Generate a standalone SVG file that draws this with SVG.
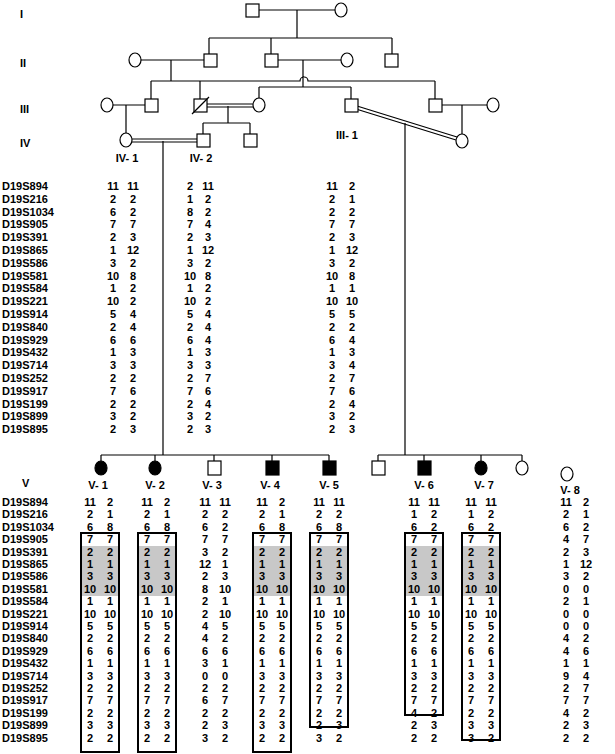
<svg xmlns="http://www.w3.org/2000/svg" width="615" height="754" viewBox="0 0 615 754">
<style>
text{font-family:"Liberation Sans",Arial,sans-serif;font-weight:bold;font-size:11px;fill:#000}
.n{text-anchor:middle}
.s{fill:#fff;stroke:#000;stroke-width:1.2}
.f{fill:#000;stroke:#000;stroke-width:1.2}
.l{stroke:#000;stroke-width:1.2;fill:none}
.box{fill:none;stroke:#000;stroke-width:2}
.g{fill:#c8c8c8}
</style>
<rect width="615" height="754" fill="#fff"/>
<g id="connectors" class="l">
<path d="M259 10H335M297 10V38M209 38H392M209 38V54M271 38V54M392 38V54"/>
<path d="M141 60H204M277 60H341M171 60V81M303 60V87M151 81H300A4 4 0 0 1 308 81H435M151 81V99M200 81V99M435 81V99M259 87H351M259 87V99M351 87V99"/>
<path d="M113 105H145M126 105V134M228 106V123M203 123H250M203 123V134M250 123V134M441 105H487M462 105V134"/>
<path d="M206 104H253M206 107H253M132 139H197M132 142H197"/>
<path d="M357 106L457 137M356 109L456 140"/>
<path d="M163 141V455M405 123V455M101 455H329M101 455V461M155 455V461M214 455V461M272 455V461M329 455V461M378 455H522M378 455V461M424 455V461M481 455V461M522 455V461"/>
</g>
<g id="gen-labels"><text x="20" y="18">I</text><text x="20" y="67">II</text><text x="20" y="113">III</text><text x="20" y="147">IV</text><text x="22" y="487">V</text></g>
<g id="I-1"><rect class="s" x="246" y="4" width="13" height="13"/></g>
<g id="I-2"><ellipse class="s" cx="341" cy="10" rx="6" ry="7"/></g>
<g id="II-1"><ellipse class="s" cx="135" cy="60" rx="6" ry="7"/></g>
<g id="II-2"><rect class="s" x="204" y="54" width="13" height="13"/></g>
<g id="II-3"><rect class="s" x="265" y="54" width="13" height="13"/></g>
<g id="II-4"><ellipse class="s" cx="347" cy="60" rx="6" ry="7"/></g>
<g id="II-5"><rect class="s" x="385" y="54" width="13" height="13"/></g>
<g id="III-a"><ellipse class="s" cx="107" cy="105" rx="6" ry="7"/></g>
<g id="III-b"><rect class="s" x="145" y="99" width="13" height="13"/></g>
<g id="III-c"><rect class="s" x="194" y="99" width="13" height="13"/><path class="l" d="M192 114L209 97"/></g>
<g id="III-d"><ellipse class="s" cx="259" cy="105" rx="6" ry="7"/></g>
<g id="III-1"><rect class="s" x="345" y="99" width="13" height="13"/><text class="n" x="347" y="139">III- 1</text></g>
<g id="III-e"><rect class="s" x="429" y="99" width="13" height="13"/></g>
<g id="III-f"><ellipse class="s" cx="493" cy="105" rx="6" ry="7"/></g>
<g id="IV-1"><ellipse class="s" cx="126" cy="140" rx="6" ry="7"/><text class="n" x="127" y="162">IV- 1</text></g>
<g id="IV-2"><rect class="s" x="197" y="134" width="13" height="13"/><text class="n" x="201" y="162">IV- 2</text></g>
<g id="IV-3"><rect class="s" x="244" y="134" width="13" height="13"/></g>
<g id="IV-4"><ellipse class="s" cx="462" cy="141" rx="6" ry="7"/></g>
<g id="V-1"><ellipse class="f" cx="101" cy="468" rx="6" ry="7"/><text class="n" x="98" y="489">V- 1</text></g>
<g id="V-2"><ellipse class="f" cx="155" cy="468" rx="6" ry="7"/><text class="n" x="155" y="489">V- 2</text></g>
<g id="V-3"><rect class="s" x="208" y="461" width="13" height="14"/><text class="n" x="212" y="489">V- 3</text></g>
<g id="V-4"><rect class="f" x="266" y="461" width="13" height="14"/><text class="n" x="270" y="489">V- 4</text></g>
<g id="V-5"><rect class="f" x="323" y="461" width="13" height="14"/><text class="n" x="329" y="489">V- 5</text></g>
<g id="V-a"><rect class="s" x="372" y="461" width="13" height="14"/></g>
<g id="V-6"><rect class="f" x="418" y="461" width="13" height="14"/><text class="n" x="424" y="489">V- 6</text></g>
<g id="V-7"><ellipse class="f" cx="481" cy="468" rx="6" ry="7"/><text class="n" x="484" y="489">V- 7</text></g>
<g id="V-b"><ellipse class="s" cx="522" cy="468" rx="6" ry="7"/></g>
<g id="V-8"><ellipse class="s" cx="567" cy="474" rx="6" ry="7"/><text class="n" x="570" y="494">V- 8</text></g>
<g id="top-table">
<text x="2" y="190">D19S894</text><text x="2" y="203">D19S216</text><text x="2" y="216">D19S1034</text><text x="2" y="228">D19S905</text><text x="2" y="241">D19S391</text><text x="2" y="254">D19S865</text><text x="2" y="267">D19S586</text><text x="2" y="280">D19S581</text><text x="2" y="292">D19S584</text><text x="2" y="305">D19S221</text><text x="2" y="318">D19S914</text><text x="2" y="331">D19S840</text><text x="2" y="344">D19S929</text><text x="2" y="356">D19S432</text><text x="2" y="369">D19S714</text><text x="2" y="382">D19S252</text><text x="2" y="395">D19S917</text><text x="2" y="408">D19S199</text><text x="2" y="420">D19S899</text><text x="2" y="433">D19S895</text>
</g>
<g id="top-values" class="n">
<text x="113" y="190">11</text><text x="133" y="190">11</text><text x="190" y="190">2</text><text x="208" y="190">11</text><text x="332" y="190">11</text><text x="352" y="190">2</text>
<text x="113" y="203">2</text><text x="133" y="203">2</text><text x="190" y="203">1</text><text x="208" y="203">2</text><text x="332" y="203">2</text><text x="352" y="203">1</text>
<text x="113" y="216">6</text><text x="133" y="216">2</text><text x="190" y="216">8</text><text x="208" y="216">2</text><text x="332" y="216">2</text><text x="352" y="216">2</text>
<text x="113" y="228">7</text><text x="133" y="228">7</text><text x="190" y="228">7</text><text x="208" y="228">4</text><text x="332" y="228">7</text><text x="352" y="228">7</text>
<text x="113" y="241">2</text><text x="133" y="241">3</text><text x="190" y="241">2</text><text x="208" y="241">3</text><text x="332" y="241">2</text><text x="352" y="241">3</text>
<text x="113" y="254">1</text><text x="133" y="254">12</text><text x="190" y="254">1</text><text x="208" y="254">12</text><text x="332" y="254">1</text><text x="352" y="254">12</text>
<text x="113" y="267">3</text><text x="133" y="267">2</text><text x="190" y="267">3</text><text x="208" y="267">2</text><text x="332" y="267">3</text><text x="352" y="267">2</text>
<text x="113" y="280">10</text><text x="133" y="280">8</text><text x="190" y="280">10</text><text x="208" y="280">8</text><text x="332" y="280">10</text><text x="352" y="280">8</text>
<text x="113" y="292">1</text><text x="133" y="292">2</text><text x="190" y="292">1</text><text x="208" y="292">2</text><text x="332" y="292">1</text><text x="352" y="292">1</text>
<text x="113" y="305">10</text><text x="133" y="305">2</text><text x="190" y="305">10</text><text x="208" y="305">2</text><text x="332" y="305">10</text><text x="352" y="305">10</text>
<text x="113" y="318">5</text><text x="133" y="318">4</text><text x="190" y="318">5</text><text x="208" y="318">4</text><text x="332" y="318">5</text><text x="352" y="318">5</text>
<text x="113" y="331">2</text><text x="133" y="331">4</text><text x="190" y="331">2</text><text x="208" y="331">4</text><text x="332" y="331">2</text><text x="352" y="331">2</text>
<text x="113" y="344">6</text><text x="133" y="344">6</text><text x="190" y="344">6</text><text x="208" y="344">4</text><text x="332" y="344">6</text><text x="352" y="344">4</text>
<text x="113" y="356">1</text><text x="133" y="356">3</text><text x="190" y="356">1</text><text x="208" y="356">3</text><text x="332" y="356">1</text><text x="352" y="356">3</text>
<text x="113" y="369">3</text><text x="133" y="369">3</text><text x="190" y="369">3</text><text x="208" y="369">3</text><text x="332" y="369">3</text><text x="352" y="369">4</text>
<text x="113" y="382">2</text><text x="133" y="382">2</text><text x="190" y="382">2</text><text x="208" y="382">7</text><text x="332" y="382">2</text><text x="352" y="382">7</text>
<text x="113" y="395">7</text><text x="133" y="395">6</text><text x="190" y="395">7</text><text x="208" y="395">6</text><text x="332" y="395">7</text><text x="352" y="395">6</text>
<text x="113" y="408">2</text><text x="133" y="408">2</text><text x="190" y="408">2</text><text x="208" y="408">4</text><text x="332" y="408">2</text><text x="352" y="408">4</text>
<text x="113" y="420">3</text><text x="133" y="420">2</text><text x="190" y="420">3</text><text x="208" y="420">2</text><text x="332" y="420">3</text><text x="352" y="420">2</text>
<text x="113" y="433">2</text><text x="133" y="433">3</text><text x="190" y="433">2</text><text x="208" y="433">3</text><text x="332" y="433">2</text><text x="352" y="433">3</text>
</g>
<g id="shading">
<rect class="g" x="81" y="546" width="38" height="50"/><rect class="g" x="138" y="546" width="38" height="50"/><rect class="g" x="253" y="546" width="38" height="50"/><rect class="g" x="310" y="546" width="38" height="50"/><rect class="g" x="405" y="546" width="38" height="50"/><rect class="g" x="462" y="546" width="38" height="50"/>
</g>
<g id="boxes">
<rect class="box" x="81" y="533" width="38" height="219"/><rect class="box" x="138" y="533" width="38" height="219"/><rect class="box" x="253" y="533" width="38" height="219"/><rect class="box" x="310" y="533" width="38" height="194"/><rect class="box" x="405" y="533" width="38" height="182"/><rect class="box" x="462" y="533" width="38" height="207"/>
</g>
<g id="bottom-table">
<text x="2" y="506">D19S894</text><text x="2" y="518">D19S216</text><text x="2" y="531">D19S1034</text><text x="2" y="543">D19S905</text><text x="2" y="556">D19S391</text><text x="2" y="568">D19S865</text><text x="2" y="580">D19S586</text><text x="2" y="593">D19S581</text><text x="2" y="605">D19S584</text><text x="2" y="618">D19S221</text><text x="2" y="630">D19S914</text><text x="2" y="642">D19S840</text><text x="2" y="655">D19S929</text><text x="2" y="667">D19S432</text><text x="2" y="680">D19S714</text><text x="2" y="692">D19S252</text><text x="2" y="704">D19S917</text><text x="2" y="717">D19S199</text><text x="2" y="729">D19S899</text><text x="2" y="742">D19S895</text>
</g>
<g id="bottom-values" class="n">
<text x="90" y="506">11</text><text x="110" y="506">2</text><text x="147" y="506">11</text><text x="167" y="506">2</text><text x="205" y="506">11</text><text x="225" y="506">11</text><text x="262" y="506">11</text><text x="282" y="506">2</text><text x="319" y="506">11</text><text x="339" y="506">11</text><text x="414" y="506">11</text><text x="434" y="506">11</text><text x="471" y="506">11</text><text x="491" y="506">11</text><text x="566" y="506">11</text><text x="586" y="506">2</text>
<text x="90" y="518">2</text><text x="110" y="518">1</text><text x="147" y="518">2</text><text x="167" y="518">1</text><text x="205" y="518">2</text><text x="225" y="518">2</text><text x="262" y="518">2</text><text x="282" y="518">1</text><text x="319" y="518">2</text><text x="339" y="518">2</text><text x="414" y="518">1</text><text x="434" y="518">2</text><text x="471" y="518">1</text><text x="491" y="518">2</text><text x="566" y="518">2</text><text x="586" y="518">1</text>
<text x="90" y="531">6</text><text x="110" y="531">8</text><text x="147" y="531">6</text><text x="167" y="531">8</text><text x="205" y="531">6</text><text x="225" y="531">2</text><text x="262" y="531">6</text><text x="282" y="531">8</text><text x="319" y="531">6</text><text x="339" y="531">8</text><text x="414" y="531">6</text><text x="434" y="531">2</text><text x="471" y="531">6</text><text x="491" y="531">2</text><text x="566" y="531">6</text><text x="586" y="531">2</text>
<text x="90" y="543">7</text><text x="110" y="543">7</text><text x="147" y="543">7</text><text x="167" y="543">7</text><text x="205" y="543">7</text><text x="225" y="543">7</text><text x="262" y="543">7</text><text x="282" y="543">7</text><text x="319" y="543">7</text><text x="339" y="543">7</text><text x="414" y="543">7</text><text x="434" y="543">7</text><text x="471" y="543">7</text><text x="491" y="543">7</text><text x="566" y="543">4</text><text x="586" y="543">7</text>
<text x="90" y="556">2</text><text x="110" y="556">2</text><text x="147" y="556">2</text><text x="167" y="556">2</text><text x="205" y="556">3</text><text x="225" y="556">2</text><text x="262" y="556">2</text><text x="282" y="556">2</text><text x="319" y="556">2</text><text x="339" y="556">2</text><text x="414" y="556">2</text><text x="434" y="556">2</text><text x="471" y="556">2</text><text x="491" y="556">2</text><text x="566" y="556">2</text><text x="586" y="556">3</text>
<text x="90" y="568">1</text><text x="110" y="568">1</text><text x="147" y="568">1</text><text x="167" y="568">1</text><text x="205" y="568">12</text><text x="225" y="568">1</text><text x="262" y="568">1</text><text x="282" y="568">1</text><text x="319" y="568">1</text><text x="339" y="568">1</text><text x="414" y="568">1</text><text x="434" y="568">1</text><text x="471" y="568">1</text><text x="491" y="568">1</text><text x="566" y="568">1</text><text x="586" y="568">12</text>
<text x="90" y="580">3</text><text x="110" y="580">3</text><text x="147" y="580">3</text><text x="167" y="580">3</text><text x="205" y="580">2</text><text x="225" y="580">3</text><text x="262" y="580">3</text><text x="282" y="580">3</text><text x="319" y="580">3</text><text x="339" y="580">3</text><text x="414" y="580">3</text><text x="434" y="580">3</text><text x="471" y="580">3</text><text x="491" y="580">3</text><text x="566" y="580">3</text><text x="586" y="580">2</text>
<text x="90" y="593">10</text><text x="110" y="593">10</text><text x="147" y="593">10</text><text x="167" y="593">10</text><text x="205" y="593">8</text><text x="225" y="593">10</text><text x="262" y="593">10</text><text x="282" y="593">10</text><text x="319" y="593">10</text><text x="339" y="593">10</text><text x="414" y="593">10</text><text x="434" y="593">10</text><text x="471" y="593">10</text><text x="491" y="593">10</text><text x="566" y="593">0</text><text x="586" y="593">0</text>
<text x="90" y="605">1</text><text x="110" y="605">1</text><text x="147" y="605">1</text><text x="167" y="605">1</text><text x="205" y="605">2</text><text x="225" y="605">1</text><text x="262" y="605">1</text><text x="282" y="605">1</text><text x="319" y="605">1</text><text x="339" y="605">1</text><text x="414" y="605">1</text><text x="434" y="605">1</text><text x="471" y="605">1</text><text x="491" y="605">1</text><text x="566" y="605">2</text><text x="586" y="605">1</text>
<text x="90" y="618">10</text><text x="110" y="618">10</text><text x="147" y="618">10</text><text x="167" y="618">10</text><text x="205" y="618">2</text><text x="225" y="618">10</text><text x="262" y="618">10</text><text x="282" y="618">10</text><text x="319" y="618">10</text><text x="339" y="618">10</text><text x="414" y="618">10</text><text x="434" y="618">10</text><text x="471" y="618">10</text><text x="491" y="618">10</text><text x="566" y="618">0</text><text x="586" y="618">0</text>
<text x="90" y="630">5</text><text x="110" y="630">5</text><text x="147" y="630">5</text><text x="167" y="630">5</text><text x="205" y="630">4</text><text x="225" y="630">5</text><text x="262" y="630">5</text><text x="282" y="630">5</text><text x="319" y="630">5</text><text x="339" y="630">5</text><text x="414" y="630">5</text><text x="434" y="630">5</text><text x="471" y="630">5</text><text x="491" y="630">5</text><text x="566" y="630">0</text><text x="586" y="630">0</text>
<text x="90" y="642">2</text><text x="110" y="642">2</text><text x="147" y="642">2</text><text x="167" y="642">2</text><text x="205" y="642">4</text><text x="225" y="642">2</text><text x="262" y="642">2</text><text x="282" y="642">2</text><text x="319" y="642">2</text><text x="339" y="642">2</text><text x="414" y="642">2</text><text x="434" y="642">2</text><text x="471" y="642">2</text><text x="491" y="642">2</text><text x="566" y="642">4</text><text x="586" y="642">2</text>
<text x="90" y="655">6</text><text x="110" y="655">6</text><text x="147" y="655">6</text><text x="167" y="655">6</text><text x="205" y="655">6</text><text x="225" y="655">6</text><text x="262" y="655">6</text><text x="282" y="655">6</text><text x="319" y="655">6</text><text x="339" y="655">6</text><text x="414" y="655">6</text><text x="434" y="655">6</text><text x="471" y="655">6</text><text x="491" y="655">6</text><text x="566" y="655">4</text><text x="586" y="655">6</text>
<text x="90" y="667">1</text><text x="110" y="667">1</text><text x="147" y="667">1</text><text x="167" y="667">1</text><text x="205" y="667">3</text><text x="225" y="667">1</text><text x="262" y="667">1</text><text x="282" y="667">1</text><text x="319" y="667">1</text><text x="339" y="667">1</text><text x="414" y="667">1</text><text x="434" y="667">1</text><text x="471" y="667">1</text><text x="491" y="667">1</text><text x="566" y="667">1</text><text x="586" y="667">1</text>
<text x="90" y="680">3</text><text x="110" y="680">3</text><text x="147" y="680">3</text><text x="167" y="680">3</text><text x="205" y="680">0</text><text x="225" y="680">0</text><text x="262" y="680">3</text><text x="282" y="680">3</text><text x="319" y="680">3</text><text x="339" y="680">3</text><text x="414" y="680">3</text><text x="434" y="680">3</text><text x="471" y="680">3</text><text x="491" y="680">3</text><text x="566" y="680">9</text><text x="586" y="680">4</text>
<text x="90" y="692">2</text><text x="110" y="692">2</text><text x="147" y="692">2</text><text x="167" y="692">2</text><text x="205" y="692">2</text><text x="225" y="692">2</text><text x="262" y="692">2</text><text x="282" y="692">2</text><text x="319" y="692">2</text><text x="339" y="692">2</text><text x="414" y="692">2</text><text x="434" y="692">2</text><text x="471" y="692">2</text><text x="491" y="692">2</text><text x="566" y="692">2</text><text x="586" y="692">7</text>
<text x="90" y="704">7</text><text x="110" y="704">7</text><text x="147" y="704">7</text><text x="167" y="704">7</text><text x="205" y="704">6</text><text x="225" y="704">7</text><text x="262" y="704">7</text><text x="282" y="704">7</text><text x="319" y="704">7</text><text x="339" y="704">7</text><text x="414" y="704">7</text><text x="434" y="704">7</text><text x="471" y="704">7</text><text x="491" y="704">7</text><text x="566" y="704">7</text><text x="586" y="704">7</text>
<text x="90" y="717">2</text><text x="110" y="717">2</text><text x="147" y="717">2</text><text x="167" y="717">2</text><text x="205" y="717">2</text><text x="225" y="717">2</text><text x="262" y="717">2</text><text x="282" y="717">2</text><text x="319" y="717">2</text><text x="339" y="717">2</text><text x="414" y="717">4</text><text x="434" y="717">2</text><text x="471" y="717">2</text><text x="491" y="717">2</text><text x="566" y="717">4</text><text x="586" y="717">2</text>
<text x="90" y="729">3</text><text x="110" y="729">3</text><text x="147" y="729">3</text><text x="167" y="729">3</text><text x="205" y="729">2</text><text x="225" y="729">3</text><text x="262" y="729">3</text><text x="282" y="729">3</text><text x="319" y="729">2</text><text x="339" y="729">3</text><text x="414" y="729">2</text><text x="434" y="729">3</text><text x="471" y="729">3</text><text x="491" y="729">3</text><text x="566" y="729">2</text><text x="586" y="729">3</text>
<text x="90" y="742">2</text><text x="110" y="742">2</text><text x="147" y="742">2</text><text x="167" y="742">2</text><text x="205" y="742">3</text><text x="225" y="742">2</text><text x="262" y="742">2</text><text x="282" y="742">2</text><text x="319" y="742">3</text><text x="339" y="742">2</text><text x="414" y="742">2</text><text x="434" y="742">2</text><text x="471" y="742">3</text><text x="491" y="742">2</text><text x="566" y="742">2</text><text x="586" y="742">2</text>
</g>
</svg>
